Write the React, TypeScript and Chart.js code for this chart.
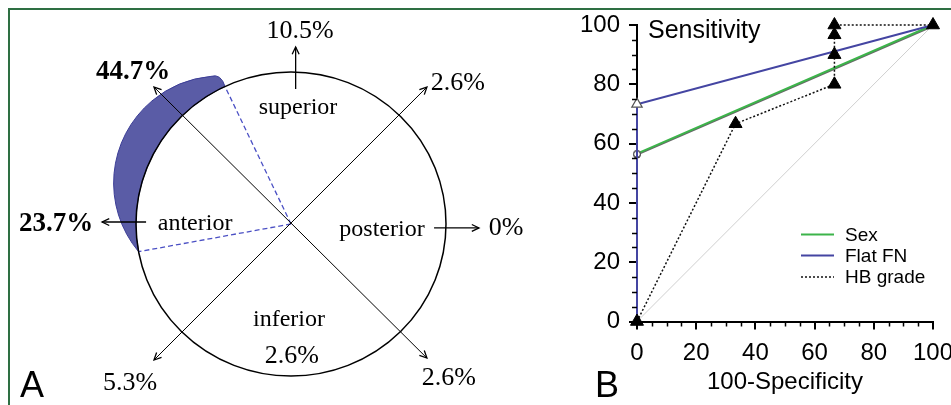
import React, { useEffect, useRef } from 'react';
import { Chart, registerables } from 'chart.js';

Chart.register(...registerables);

// ---------- Panel A data ----------
const directions = ['superior', 'posterior', 'inferior', 'anterior'];
const directionPct = [10.5, 0, 2.6, 23.7];
const obliqueNames = ['superior-posterior', 'posterior-inferior', 'inferior-anterior', 'anterior-superior'];
const obliquePct = [2.6, 2.6, 5.3, 44.7];
const boldNames = ['anterior', 'anterior-superior'];

// ---------- Panel B data ----------
const sexX = [0, 0, 100];
const sexY = [0, 56.6, 100];
const flatX = [0, 0, 100];
const flatY = [0, 73.3, 100];
const hbX = [0, 33.3, 66.7, 66.7, 66.7, 66.7, 100];
const hbY = [0, 66.7, 80, 90, 96.7, 100, 100];
const refX = [0, 100];
const refY = [0, 100];
const legendOrder = ['Sex', 'Flat FN', 'HB grade'];

const SERIF = '"Liberation Serif", "Times New Roman", serif';
const SANS = '"Liberation Sans", Arial, sans-serif';

// layout of the diagram in unit-circle coordinates (not data)
const dirLayout: Record<string, any> = {
  superior: { label: [0.045, 0.763], arrow: [[0.03, 0.888], [0.03, 1.164]], pct: [0.058, 1.27] },
  posterior: { label: [0.587, -0.039], arrow: [[0.923, -0.026], [1.213, -0.026]], pct: [1.387, -0.026] },
  inferior: { label: [-0.013, -0.632], arrow: null, pct: [0.006, -0.868] },
  anterior: { label: [-0.619, 0.0], arrow: [[-0.935, 0.013], [-1.219, 0.013]], pct: [-1.516, 0.0] },
};
const obliqueLayout: Record<string, any> = {
  'superior-posterior': { tip: [0.877, 0.901], pct: [1.077, 0.928] },
  'posterior-inferior': { tip: [0.877, -0.882], pct: [1.019, -1.013] },
  'inferior-anterior': { tip: [-0.884, -0.895], pct: [-1.039, -1.046] },
  'anterior-superior': { tip: [-0.884, 0.901], pct: [-1.019, 1.0] },
};

function arrowHead(ctx: CanvasRenderingContext2D, fx: number, fy: number, tx: number, ty: number) {
  const ang = Math.atan2(ty - fy, tx - fx);
  const len = 8;
  const spread = 0.45;
  ctx.beginPath();
  ctx.moveTo(tx - len * Math.cos(ang - spread), ty - len * Math.sin(ang - spread));
  ctx.lineTo(tx, ty);
  ctx.lineTo(tx - len * Math.cos(ang + spread), ty - len * Math.sin(ang + spread));
  ctx.stroke();
}

function circum(a: number[], b: number[], c: number[]) {
  const d = 2 * (a[0] * (b[1] - c[1]) + b[0] * (c[1] - a[1]) + c[0] * (a[1] - b[1]));
  const A = a[0] * a[0] + a[1] * a[1];
  const B = b[0] * b[0] + b[1] * b[1];
  const C = c[0] * c[0] + c[1] * c[1];
  const ux = (A * (b[1] - c[1]) + B * (c[1] - a[1]) + C * (a[1] - b[1])) / d;
  const uy = (A * (c[0] - b[0]) + B * (a[0] - c[0]) + C * (b[0] - a[0])) / d;
  return [ux, uy, Math.hypot(a[0] - ux, a[1] - uy)];
}

const diagramPlugin = {
  id: 'diagram',
  afterDraw(chart: any) {
    const ctx: CanvasRenderingContext2D = chart.ctx;
    const xs = chart.scales.x;
    const ys = chart.scales.y;
    const P = (x: number, y: number) => [xs.getPixelForValue(x), ys.getPixelForValue(y)];
    const [cx, cy] = P(0, 0);
    const rx = xs.getPixelForValue(1) - cx;
    const ry = cy - ys.getPixelForValue(1);
    const onCircle = (deg: number, k = 1) => {
      const a = (deg * Math.PI) / 180;
      return [cx + rx * k * Math.cos(a), cy - ry * k * Math.sin(a)];
    };
    ctx.save();

    // crescent (anterior-superior highlight)
    const a1 = 115.2;
    const a2 = 190.5;
    const p1 = onCircle(a1);
    const p2 = onCircle(a2);
    const b = onCircle(152, 1.22);
    const q = onCircle(118, 1.1);
    const capCtrl = onCircle(114.5, 1.09);
    const [ox, oy, orad] = circum(p2, b, q);
    const t2 = Math.atan2(p2[1] - oy, p2[0] - ox);
    const tq = Math.atan2(q[1] - oy, q[0] - ox);
    const tb = Math.atan2(b[1] - oy, b[0] - ox);
    const norm = (v: number) => ((v % (2 * Math.PI)) + 2 * Math.PI) % (2 * Math.PI);
    const cw = norm(tb - t2) < norm(tq - t2);
    ctx.beginPath();
    ctx.moveTo(p1[0], p1[1]);
    ctx.ellipse(cx, cy, rx, ry, 0, (-a1 * Math.PI) / 180, (-a2 * Math.PI) / 180, true);
    ctx.arc(ox, oy, orad, t2, tq, !cw);
    ctx.quadraticCurveTo(capCtrl[0], capCtrl[1], p1[0], p1[1]);
    ctx.closePath();
    ctx.fillStyle = '#5a5ca6';
    ctx.fill();
    ctx.strokeStyle = '#3b3d96';
    ctx.lineWidth = 1;
    ctx.stroke();

    // dashed boundaries
    ctx.setLineDash([5, 3]);
    ctx.strokeStyle = '#4b50c4';
    ctx.lineWidth = 1.3;
    ctx.beginPath();
    ctx.moveTo(cx, cy);
    ctx.lineTo(p1[0], p1[1]);
    ctx.moveTo(cx, cy);
    ctx.lineTo(p2[0], p2[1]);
    ctx.stroke();
    ctx.setLineDash([]);

    // circle
    ctx.beginPath();
    ctx.ellipse(cx, cy, rx, ry, 0, 0, Math.PI * 2);
    ctx.strokeStyle = '#000';
    ctx.lineWidth = 1.5;
    ctx.stroke();

    // diagonals with arrows at both ends
    ctx.lineWidth = 1;
    ctx.strokeStyle = '#000';
    const pairs = [
      ['anterior-superior', 'posterior-inferior'],
      ['inferior-anterior', 'superior-posterior'],
    ];
    pairs.forEach(([s, e]) => {
      const ps = P(obliqueLayout[s].tip[0], obliqueLayout[s].tip[1]);
      const pe = P(obliqueLayout[e].tip[0], obliqueLayout[e].tip[1]);
      ctx.beginPath();
      ctx.moveTo(ps[0], ps[1]);
      ctx.lineTo(pe[0], pe[1]);
      ctx.stroke();
      ctx.lineWidth = 1.3;
      arrowHead(ctx, pe[0], pe[1], ps[0], ps[1]);
      arrowHead(ctx, ps[0], ps[1], pe[0], pe[1]);
      ctx.lineWidth = 1;
    });

    // direction arrows
    ctx.lineWidth = 1.3;
    directions.forEach((d) => {
      const lay = dirLayout[d];
      if (!lay.arrow) return;
      const f = P(lay.arrow[0][0], lay.arrow[0][1]);
      const t = P(lay.arrow[1][0], lay.arrow[1][1]);
      ctx.beginPath();
      ctx.moveTo(f[0], f[1]);
      ctx.lineTo(t[0], t[1]);
      ctx.stroke();
      arrowHead(ctx, f[0], f[1], t[0], t[1]);
    });

    // texts
    ctx.fillStyle = '#000';
    ctx.textAlign = 'center';
    ctx.textBaseline = 'middle';
    const pctFont = (bold: boolean) => (bold ? `bold 27px ${SERIF}` : `26px ${SERIF}`);
    directions.forEach((d, i) => {
      const lay = dirLayout[d];
      const lp = P(lay.label[0], lay.label[1]);
      ctx.font = `24px ${SERIF}`;
      ctx.fillText(d, lp[0], lp[1]);
      const pp = P(lay.pct[0], lay.pct[1]);
      ctx.font = pctFont(boldNames.includes(d));
      ctx.fillText(`${directionPct[i]}%`, pp[0], pp[1]);
    });
    obliqueNames.forEach((n, i) => {
      const pp = P(obliqueLayout[n].pct[0], obliqueLayout[n].pct[1]);
      ctx.font = pctFont(boldNames.includes(n));
      ctx.fillText(`${obliquePct[i]}%`, pp[0], pp[1]);
    });

    // panel letter
    ctx.textAlign = 'left';
    ctx.textBaseline = 'alphabetic';
    ctx.font = `36px ${SANS}`;
    ctx.fillText('A', chart.chartArea.left + 20, chart.chartArea.top + 397);
    ctx.restore();
  },
};

const rocPlugin = {
  id: 'rocExtras',
  beforeDatasetDraw(chart: any, args: any) {
    if (chart.data.datasets[args.index].label === 'Sex') {
      chart.ctx.save();
      chart.ctx.shadowColor = 'rgba(0,0,0,0.6)';
      chart.ctx.shadowOffsetY = 1;
      chart.ctx.shadowOffsetX = 0;
      chart.ctx.shadowBlur = 0;
    }
  },
  afterDatasetDraw(chart: any, args: any) {
    if (chart.data.datasets[args.index].label === 'Sex') chart.ctx.restore();
  },
  afterDraw(chart: any) {
    const ctx: CanvasRenderingContext2D = chart.ctx;
    const xs = chart.scales.x;
    const ys = chart.scales.y;
    const area = chart.chartArea;
    ctx.save();
    // minor ticks
    ctx.strokeStyle = '#000';
    ctx.lineWidth = 1.5;
    ctx.beginPath();
    for (let v = 5; v < 100; v += 5) {
      if (v % 20 === 0) continue;
      const px = Math.round(xs.getPixelForValue(v)) + 0.5;
      ctx.moveTo(px, area.bottom);
      ctx.lineTo(px, area.bottom + 5);
      const py = Math.round(ys.getPixelForValue(v)) + 0.5;
      ctx.moveTo(area.left, py);
      ctx.lineTo(area.left - 5, py);
    }
    ctx.stroke();

    // inner axis caption
    ctx.fillStyle = '#000';
    ctx.font = `25px ${SANS}`;
    ctx.textAlign = 'left';
    ctx.textBaseline = 'alphabetic';
    ctx.fillText('Sensitivity', area.left + 11, area.top + 13);

    // panel letter
    ctx.font = `36px ${SANS}`;
    ctx.fillText('B', 35, area.top + 372);

    // legend
    const rowsY = [209.5, 230.5, 252];
    ctx.font = `19px ${SANS}`;
    ctx.textBaseline = 'middle';
    legendOrder.forEach((name, i) => {
      const ds = chart.data.datasets.find((d: any) => d.label === name);
      if (!ds) return;
      const y = area.top + rowsY[i];
      ctx.save();
      ctx.strokeStyle = ds.borderColor;
      ctx.lineWidth = ds.borderWidth;
      ctx.setLineDash(ds.borderDash || []);
      ctx.beginPath();
      ctx.moveTo(area.left + 164, y);
      ctx.lineTo(area.left + 197, y);
      ctx.stroke();
      ctx.restore();
      ctx.fillStyle = '#000';
      ctx.fillText(name, area.left + 208, y + 1);
    });
    ctx.restore();
  },
};

const toPts = (xs: number[], ys: number[]) => xs.map((x, i) => ({ x, y: ys[i] }));

export default function App() {
  const refA = useRef<HTMLCanvasElement>(null);
  const refB = useRef<HTMLCanvasElement>(null);

  useEffect(() => {
    document.body.style.margin = '0';
    const chartA = new Chart(refA.current as HTMLCanvasElement, {
      type: 'scatter',
      data: { datasets: [{ data: [] }] },
      options: {
        animation: false,
        responsive: false,
        devicePixelRatio: 1,
        layout: { padding: 0 },
        plugins: { legend: { display: false }, tooltip: { enabled: false } },
        scales: {
          x: { type: 'linear', display: false, min: -291 / 155, max: 269 / 155 },
          y: { type: 'linear', display: false, min: -181 / 152, max: 224 / 152 },
        },
      },
      plugins: [diagramPlugin],
    } as any);

    const fixPad = (s: any) => {
      s.paddingLeft = 0;
      s.paddingRight = 0;
      s.paddingTop = 0;
      s.paddingBottom = 0;
    };

    const chartB = new Chart(refB.current as HTMLCanvasElement, {
      type: 'scatter',
      data: {
        datasets: [
          {
            label: 'HB grade',
            data: toPts(hbX, hbY),
            showLine: true,
            borderColor: '#111',
            borderWidth: 1.5,
            borderDash: [2, 2],
            pointStyle: 'triangle',
            pointRadius: 7.5,
            pointBackgroundColor: '#000',
            pointBorderColor: '#000',
            pointBorderWidth: 1,
            clip: false,
          },
          {
            label: 'Flat FN',
            data: toPts(flatX, flatY),
            showLine: true,
            borderColor: '#4445a2',
            borderWidth: 2,
            pointStyle: 'triangle',
            pointRadius: [0, 6, 0],
            pointBackgroundColor: '#fff',
            pointBorderColor: '#555',
            pointBorderWidth: 1.2,
            clip: false,
          },
          {
            label: 'Sex',
            data: toPts(sexX, sexY),
            showLine: true,
            borderColor: '#3cb44a',
            borderWidth: 2,
            pointStyle: 'circle',
            pointRadius: [0, 3.5, 0],
            pointBackgroundColor: '#fff',
            pointBorderColor: '#555',
            pointBorderWidth: 1,
            clip: false,
          },
          {
            label: 'reference',
            data: toPts(refX, refY),
            showLine: true,
            borderColor: '#cfcfcf',
            borderWidth: 1,
            pointRadius: 0,
            clip: false,
          },
        ],
      },
      options: {
        animation: false,
        responsive: false,
        devicePixelRatio: 1,
        layout: { padding: { top: 25, right: 18, left: 0, bottom: 0 } },
        plugins: { legend: { display: false }, tooltip: { enabled: false } },
        scales: {
          x: {
            type: 'linear',
            min: 0,
            max: 100,
            afterFit: (s: any) => {
              s.height = 83.5;
              fixPad(s);
            },
            ticks: {
              stepSize: 20,
              autoSkip: false,
              maxRotation: 0,
              padding: 9,
              color: '#000',
              font: { size: 24, family: SANS },
            },
            grid: { drawOnChartArea: false, drawTicks: true, tickLength: 8, tickWidth: 2, tickColor: '#000', lineWidth: 2 },
            border: { display: true, color: '#000', width: 2 },
            title: {
              display: true,
              text: '100-Specificity',
              color: '#000',
              font: { size: 24, family: SANS },
              padding: { top: 0, bottom: 8 },
            },
          },
          y: {
            type: 'linear',
            min: 0,
            max: 100,
            afterFit: (s: any) => {
              s.width = 77;
              fixPad(s);
            },
            ticks: {
              stepSize: 20,
              autoSkip: false,
              padding: 9,
              color: '#000',
              font: { size: 24, family: SANS },
            },
            grid: { drawOnChartArea: false, drawTicks: true, tickLength: 8, tickWidth: 2, tickColor: '#000', lineWidth: 2 },
            border: { display: true, color: '#000', width: 2 },
          },
        },
      },
      plugins: [rocPlugin],
    } as any);

    return () => {
      chartA.destroy();
      chartB.destroy();
    };
  }, []);

  return (
    <div style={{ position: 'fixed', left: 0, top: 0, width: 951, height: 405, background: '#fff', overflow: 'hidden' }}>
      <canvas ref={refA} width={560} height={405} style={{ position: 'absolute', left: 0, top: 0, width: 560, height: 405 }} />
      <canvas ref={refB} width={391} height={405} style={{ position: 'absolute', left: 560, top: 0, width: 391, height: 405 }} />
      <div
        style={{
          position: 'absolute',
          left: 8,
          top: 8,
          width: 2000,
          height: 1000,
          borderTop: '2px solid #2e6f43',
          borderLeft: '2px solid #2e6f43',
          pointerEvents: 'none',
        }}
      />
    </div>
  );
}
